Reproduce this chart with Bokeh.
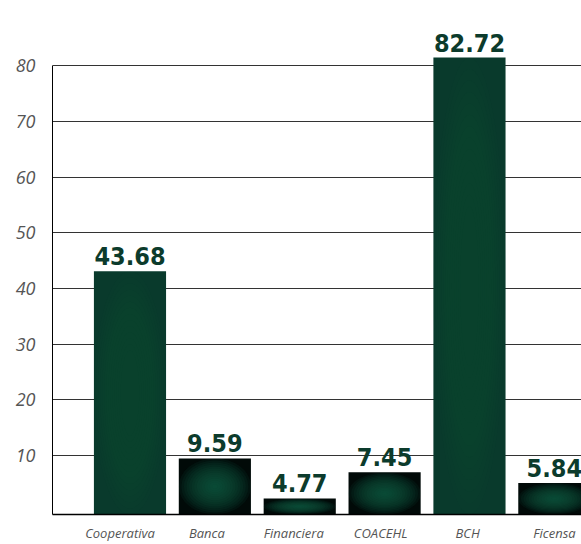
from bokeh.plotting import figure
from bokeh.models import ColumnDataSource, FixedTicker
from bokeh.core.properties import value
from bokeh.embed import file_html
from bokeh.resources import INLINE

# ---- data ----
categories = ["Cooperativa", "Banca", "Financiera", "COACEHL", "BCH", "Ficensa"]
bar_heights = [43.1, 9.5, 2.3, 7.0, 81.5, 5.1]
bar_labels = ["43.68", "9.59", "4.77", "7.45", "82.72", "5.84"]
y_ticks = [10, 20, 30, 40, 50, 60, 70, 80]

# ---- layout constants ----
X_START, X_END = -0.913, 5.32
Y_MIN, Y_MAX = -0.58, 91.76
BAR_W = 0.85
LABEL_STEP, LABEL_SHIFT = 1.024, -0.118

xs = list(range(len(categories)))

p = figure(width=581, height=544, output_backend="svg", toolbar_location=None,
           x_range=(X_START, X_END), y_range=(Y_MIN, Y_MAX),
           min_border_left=52, min_border_right=0, min_border_top=0, min_border_bottom=26)
p.outline_line_color = None
p.background_fill_color = "white"
p.border_fill_color = "white"

# base bars
bot = [Y_MIN] * len(xs)
base_colors = ["#093a2c" if h > 20 else "#010a08" for h in bar_heights]
src = ColumnDataSource(dict(x=xs, top=bar_heights, bottom=bot, color=base_colors))
p.vbar(x="x", top="top", bottom="bottom", width=BAR_W, fill_color="color",
       line_color=None, source=src)

# gradient approximation: stacked translucent ellipses inside each bar
N = 14
ex, ey, ew, eh, ec, ea = [], [], [], [], [], []
for x, h in zip(xs, bar_heights):
    full_h = h - Y_MIN
    cy = Y_MIN + full_h / 2
    tall = h > 20
    for k in range(N):
        s = 1.0 - k / N
        ex.append(x)
        ey.append(cy)
        if tall:
            ew.append(BAR_W * (0.2 + 0.8 * s))
            eh.append(full_h * (0.3 + 0.7 * s))
            ec.append("#0d4a38")
            ea.append(0.08)
        else:
            ew.append(BAR_W * s)
            eh.append(full_h * s)
            ec.append("#11583f")
            ea.append(0.12)
esrc = ColumnDataSource(dict(x=ex, y=ey, w=ew, h=eh, c=ec, a=ea))
p.ellipse(x="x", y="y", width="w", height="h", fill_color="c", fill_alpha="a",
          line_color=None, source=esrc)

# value labels
lsrc = ColumnDataSource(dict(x=xs, y=bar_heights, t=bar_labels))
p.text(x="x", y="y", text="t", source=lsrc, text_align="center",
       text_baseline="alphabetic", y_offset=-15,
       text_font=value("'DejaVu Sans Condensed', sans-serif"),
       text_font_style="bold",
       text_font_size="25px", text_color="#0c3b2c")

# axes
label_pos = [i * LABEL_STEP + LABEL_SHIFT for i in xs]
p.xaxis.ticker = FixedTicker(ticks=label_pos)
p.xaxis.major_label_overrides = {pos: c for pos, c in zip(label_pos, categories)}
p.xaxis.major_tick_line_color = None
p.xaxis.minor_tick_line_color = None
p.xaxis.major_tick_out = 0
p.xaxis.major_label_standoff = 9
p.xaxis.axis_line_color = "black"
p.xaxis.axis_line_width = 1.5
p.xaxis.major_label_text_font = "Open Sans"
p.xaxis.major_label_text_font_style = "italic"
p.xaxis.major_label_text_font_size = "13px"
p.xaxis.major_label_text_color = "#555555"

p.yaxis.ticker = FixedTicker(ticks=y_ticks)
p.yaxis.bounds = (Y_MIN, 80)
p.yaxis.major_tick_line_color = None
p.yaxis.minor_tick_line_color = None
p.yaxis.major_tick_out = 0
p.yaxis.major_label_standoff = 17
p.yaxis.axis_line_color = "black"
p.yaxis.axis_line_width = 1
p.yaxis.major_label_text_font = "Open Sans"
p.yaxis.major_label_text_font_style = "italic"
p.yaxis.major_label_text_font_size = "18px"
p.yaxis.major_label_text_color = "#555555"

p.xgrid.grid_line_color = None
p.ygrid.ticker = FixedTicker(ticks=y_ticks)
p.ygrid.grid_line_color = "#333333"
p.ygrid.grid_line_width = 1

open("out.html", "w").write(file_html(p, INLINE))
